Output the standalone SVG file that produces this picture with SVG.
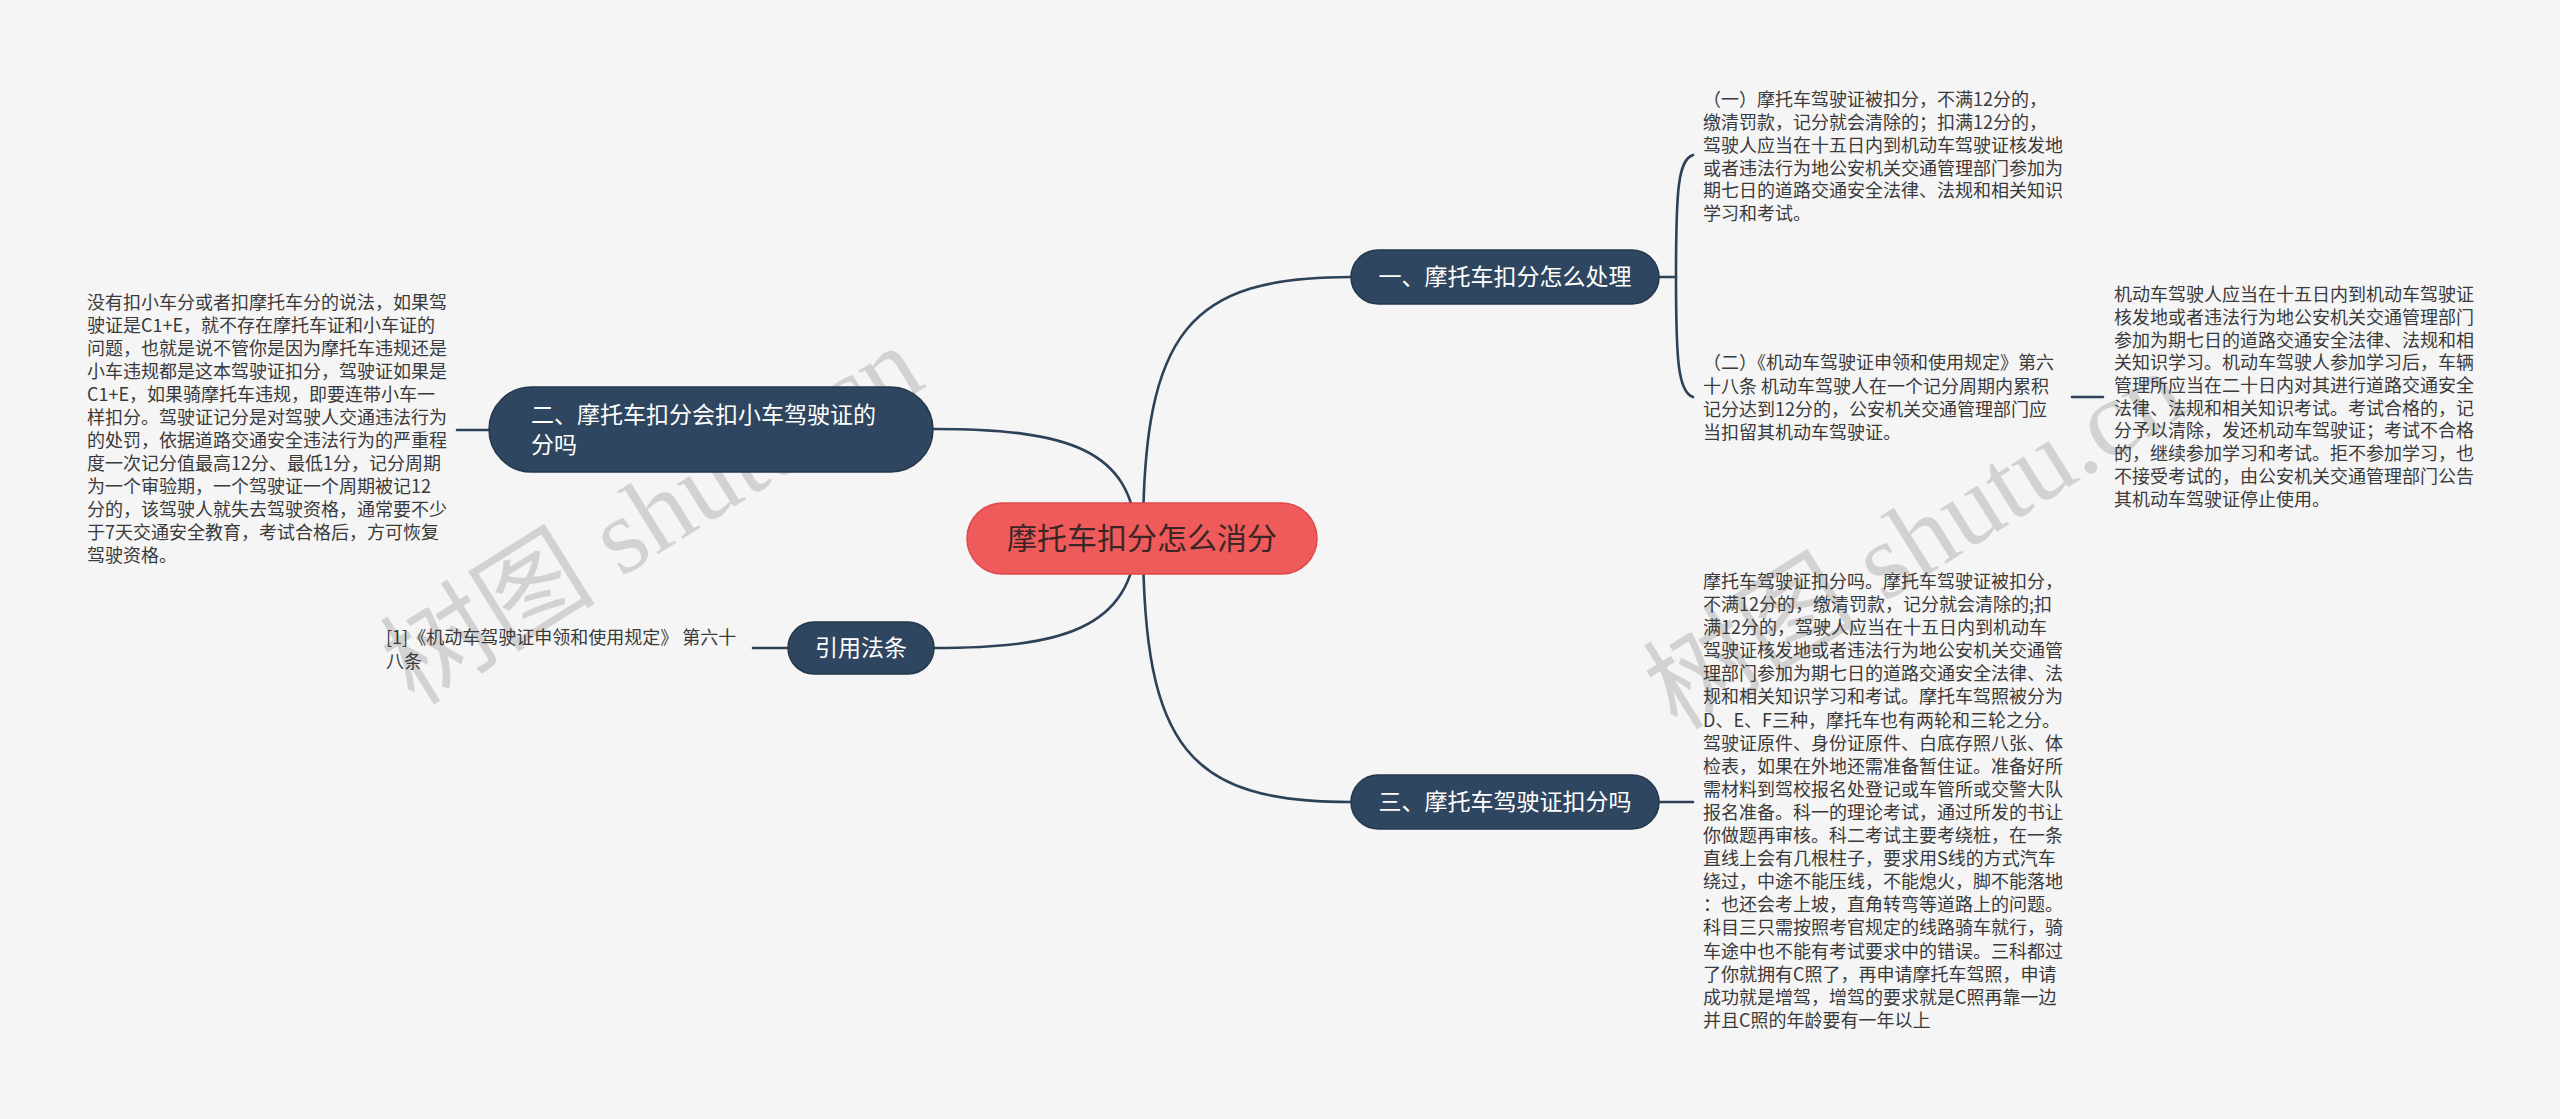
<svg xmlns="http://www.w3.org/2000/svg" width="2560" height="1119" viewBox="0 0 2560 1119">
<style>
.bg{fill:#f5f5f5}
.wm{font-family:"Liberation Serif","Noto Sans CJK SC",serif;font-size:108px;fill:#000;fill-opacity:0.14}
.ln{fill:none;stroke:#2d4158;stroke-width:2.6;stroke-linecap:round}
.root rect{fill:#ef5a5a;stroke:#dc4a4a;stroke-width:1.5}
.root text{font-family:"Noto Sans CJK SC","Noto Sans",sans-serif;font-size:30px;fill:#3a2626;text-anchor:middle}
.br rect{fill:#2f4660;stroke:#24374c;stroke-width:1.5}
.br text{font-family:"Noto Sans CJK SC","Noto Sans",sans-serif;font-size:23px;fill:#ffffff}
.lf text{font-family:"Noto Sans CJK SC","Noto Sans",sans-serif;font-size:18px;fill:#3a3a3a}
</style>
<rect class="bg" x="0" y="0" width="2560" height="1119"/>
<g id="watermarks">
<text class="wm" transform="translate(652,515) rotate(-32)" text-anchor="middle" dominant-baseline="central">树图 shutu.cn</text>
<text class="wm" transform="translate(1915,540) rotate(-32)" text-anchor="middle" dominant-baseline="central">树图 shutu.cn</text>
</g>
<g id="connectors">
<path class="ln" d="M1143,538 C1143,330 1190,277 1351,277"/>
<path class="ln" d="M1137,538 C1132,450 1070,429 933,429"/>
<path class="ln" d="M1137,538 C1132,630 1060,648 934,648"/>
<path class="ln" d="M1143,538 C1143,750 1190,802 1351,802"/>
<path class="ln" d="M1659,277 L1676,277"/>
<path class="ln" d="M1676,277 C1676,190 1678,160 1693,155"/>
<path class="ln" d="M1676,277 C1676,360 1678,392 1693,397"/>
<path class="ln" d="M2072,397 L2103,397"/>
<path class="ln" d="M457,430 L489,430"/>
<path class="ln" d="M753,648 L788,648"/>
<path class="ln" d="M1659,802 L1693,802"/>
</g>
<g id="root" class="root">
<rect x="967" y="503" width="350" height="71" rx="35.5"/>
<text x="1142" y="549">摩托车扣分怎么消分</text>
</g>
<g id="b1" class="br">
<rect x="1351" y="250" width="308" height="54" rx="27"/>
<text x="1505" y="285" text-anchor="middle">一、摩托车扣分怎么处理</text>
</g>
<g id="b2" class="br">
<rect x="489" y="387" width="444" height="85" rx="42.5"/>
<text x="531" y="423">二、摩托车扣分会扣小车驾驶证的</text>
<text x="531" y="453">分吗</text>
</g>
<g id="b3" class="br">
<rect x="788" y="622" width="146" height="52" rx="26"/>
<text x="861" y="656" text-anchor="middle">引用法条</text>
</g>
<g id="b4" class="br">
<rect x="1351" y="775" width="308" height="54" rx="27"/>
<text x="1505" y="810" text-anchor="middle">三、摩托车驾驶证扣分吗</text>
</g>
<g id="b1c1" class="lf">
<text x="1703" y="106">（一）摩托车驾驶证被扣分，不满12分的，</text>
<text x="1703" y="129">缴清罚款，记分就会清除的；扣满12分的，</text>
<text x="1703" y="152">驾驶人应当在十五日内到机动车驾驶证核发地</text>
<text x="1703" y="175">或者违法行为地公安机关交通管理部门参加为</text>
<text x="1703" y="197">期七日的道路交通安全法律、法规和相关知识</text>
<text x="1703" y="220">学习和考试。</text>
</g>
<g id="b1c2" class="lf">
<text x="1703" y="369">（二）《机动车驾驶证申领和使用规定》第六</text>
<text x="1703" y="393">十八条 机动车驾驶人在一个记分周期内累积</text>
<text x="1703" y="416">记分达到12分的，公安机关交通管理部门应</text>
<text x="1703" y="439">当扣留其机动车驾驶证。</text>
</g>
<g id="b1c2c1" class="lf">
<text x="2114" y="301">机动车驾驶人应当在十五日内到机动车驾驶证</text>
<text x="2114" y="324">核发地或者违法行为地公安机关交通管理部门</text>
<text x="2114" y="347">参加为期七日的道路交通安全法律、法规和相</text>
<text x="2114" y="369">关知识学习。机动车驾驶人参加学习后，车辆</text>
<text x="2114" y="392">管理所应当在二十日内对其进行道路交通安全</text>
<text x="2114" y="415">法律、法规和相关知识考试。考试合格的，记</text>
<text x="2114" y="437">分予以清除，发还机动车驾驶证；考试不合格</text>
<text x="2114" y="460">的，继续参加学习和考试。拒不参加学习，也</text>
<text x="2114" y="483">不接受考试的，由公安机关交通管理部门公告</text>
<text x="2114" y="506">其机动车驾驶证停止使用。</text>
</g>
<g id="b2c1" class="lf">
<text x="87" y="309">没有扣小车分或者扣摩托车分的说法，如果驾</text>
<text x="87" y="332">驶证是C1+E，就不存在摩托车证和小车证的</text>
<text x="87" y="355">问题，也就是说不管你是因为摩托车违规还是</text>
<text x="87" y="378">小车违规都是这本驾驶证扣分，驾驶证如果是</text>
<text x="87" y="401">C1+E，如果骑摩托车违规，即要连带小车一</text>
<text x="87" y="424">样扣分。驾驶证记分是对驾驶人交通违法行为</text>
<text x="87" y="447">的处罚，依据道路交通安全违法行为的严重程</text>
<text x="87" y="470">度一次记分值最高12分、最低1分，记分周期</text>
<text x="87" y="493">为一个审验期，一个驾驶证一个周期被记12</text>
<text x="87" y="516">分的，该驾驶人就失去驾驶资格，通常要不少</text>
<text x="87" y="539">于7天交通安全教育，考试合格后，方可恢复</text>
<text x="87" y="562">驾驶资格。</text>
</g>
<g id="b3c1" class="lf">
<text x="386" y="644">[1]《机动车驾驶证申领和使用规定》 第六十</text>
<text x="386" y="668">八条</text>
</g>
<g id="b4c1" class="lf">
<text x="1703" y="588">摩托车驾驶证扣分吗。摩托车驾驶证被扣分，</text>
<text x="1703" y="611">不满12分的，缴清罚款，记分就会清除的;扣</text>
<text x="1703" y="634">满12分的，驾驶人应当在十五日内到机动车</text>
<text x="1703" y="657">驾驶证核发地或者违法行为地公安机关交通管</text>
<text x="1703" y="680">理部门参加为期七日的道路交通安全法律、法</text>
<text x="1703" y="703">规和相关知识学习和考试。摩托车驾照被分为</text>
<text x="1703" y="727">D、E、F三种，摩托车也有两轮和三轮之分。</text>
<text x="1703" y="750">驾驶证原件、身份证原件、白底存照八张、体</text>
<text x="1703" y="773">检表，如果在外地还需准备暂住证。准备好所</text>
<text x="1703" y="796">需材料到驾校报名处登记或车管所或交警大队</text>
<text x="1703" y="819">报名准备。科一的理论考试，通过所发的书让</text>
<text x="1703" y="842">你做题再审核。科二考试主要考绕桩，在一条</text>
<text x="1703" y="865">直线上会有几根柱子，要求用S线的方式汽车</text>
<text x="1703" y="888">绕过，中途不能压线，不能熄火，脚不能落地</text>
<text x="1703" y="911">：也还会考上坡，直角转弯等道路上的问题。</text>
<text x="1703" y="934">科目三只需按照考官规定的线路骑车就行，骑</text>
<text x="1703" y="958">车途中也不能有考试要求中的错误。三科都过</text>
<text x="1703" y="981">了你就拥有C照了，再申请摩托车驾照，申请</text>
<text x="1703" y="1004">成功就是增驾，增驾的要求就是C照再靠一边</text>
<text x="1703" y="1027">并且C照的年龄要有一年以上</text>
</g>
</svg>
